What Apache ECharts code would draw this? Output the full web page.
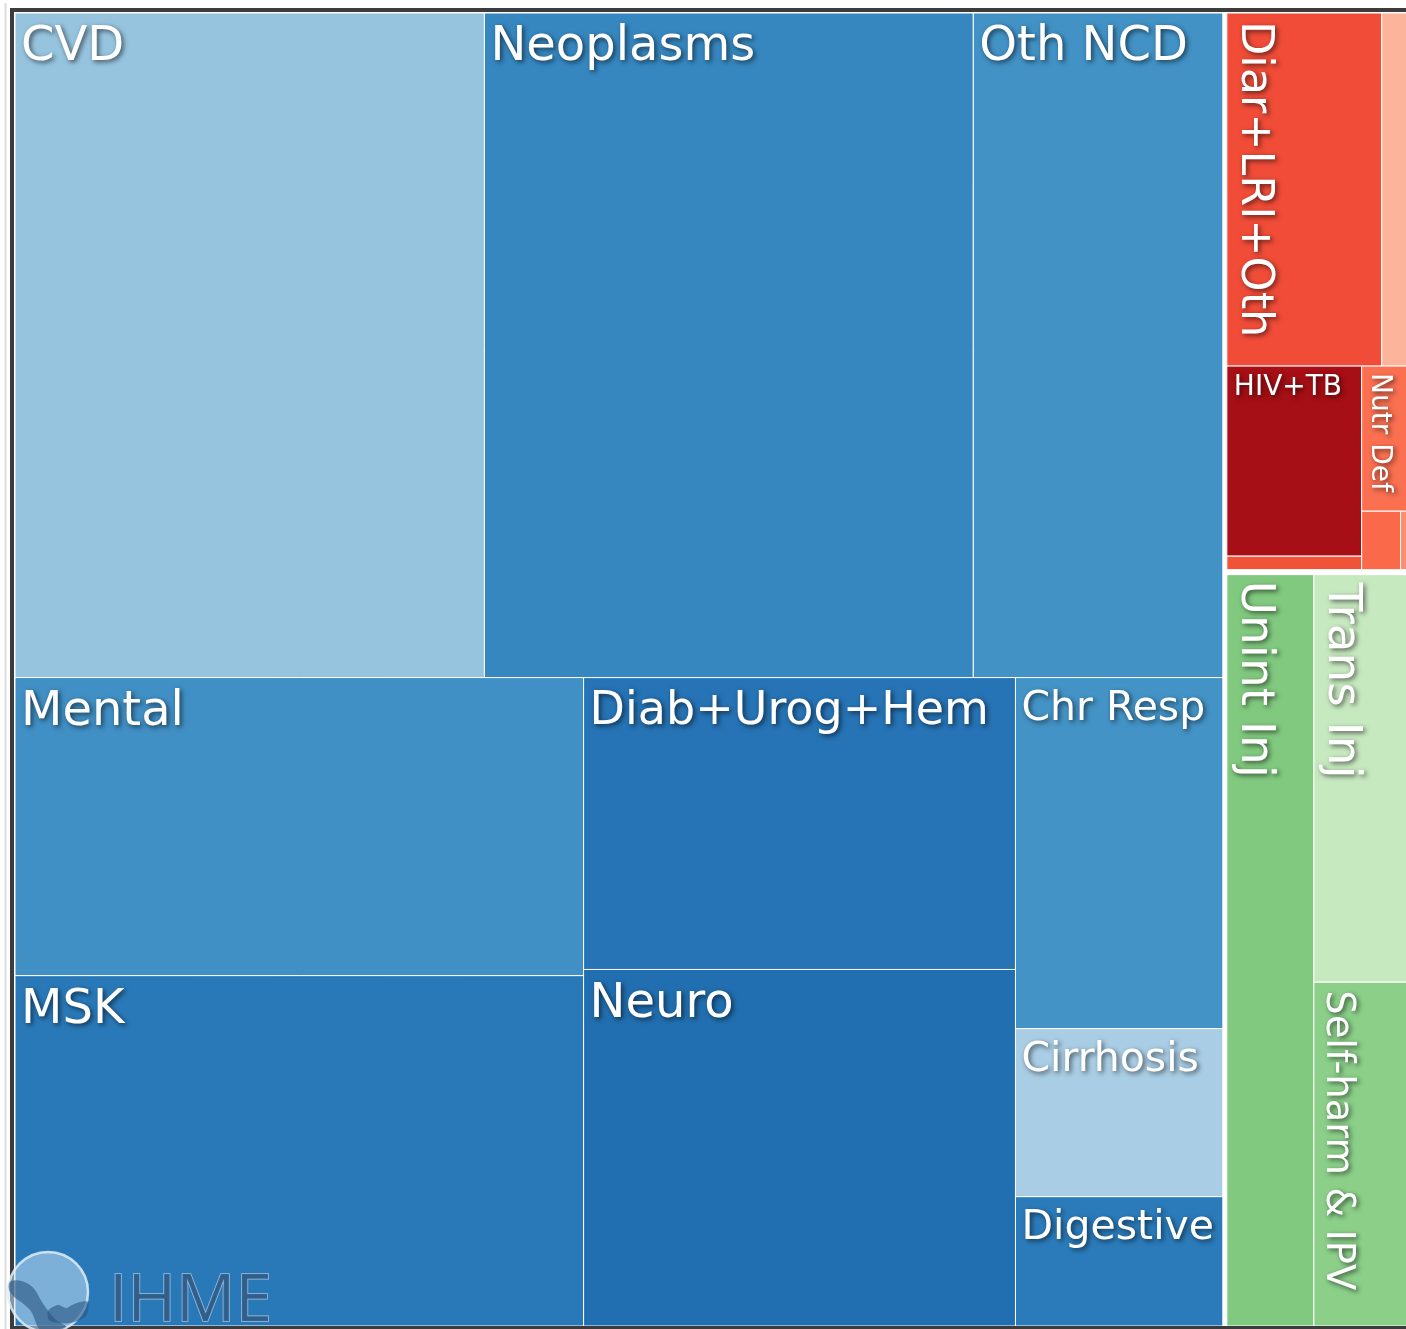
<!DOCTYPE html>
<html>
<head>
<meta charset="utf-8">
<script src="https://cdn.jsdelivr.net/npm/echarts@6/dist/echarts.min.js"></script>
<style>
  html, body { margin: 0; padding: 0; background: #fff; overflow: hidden; }
  #chart { width: 1412px; height: 1329px; }
</style>
</head>
<body>
<div id="chart"></div>
<script>
// ---- DATA (share of total DALYs, %) ----
const ncdCauses  = ['CVD', 'Neoplasms', 'Oth NCD', 'Mental', 'MSK', 'Diab+Urog+Hem', 'Neuro', 'Chr Resp', 'Cirrhosis', 'Digestive'];
const ncdValues  = [17.10, 17.81, 9.09, 9.29, 10.92, 6.91, 8.44, 3.99, 1.91, 1.47];
const commCauses = ['Diar+LRI+Oth', 'Neonatal', 'HIV+TB', 'NTD+Mal', 'Nutr Def', 'Maternal', 'Oth Comm'];
const commValues = [3.01, 0.51, 1.41, 0.10, 0.37, 0.125, 0.024];
const injCauses  = ['Unint Inj', 'Trans Inj', 'Self-harm & IPV'];
const injValues  = [3.60, 2.11, 1.78];

// ---- STYLE ----
const cellColors = {
  'CVD': '#96c4de', 'Neoplasms': '#3687c0', 'Oth NCD': '#4292c6', 'Mental': '#408fc5',
  'MSK': '#2979b9', 'Diab+Urog+Hem': '#2673b5', 'Neuro': '#216fb0', 'Chr Resp': '#4393c6',
  'Cirrhosis': '#a9cde4', 'Digestive': '#2b7bba',
  'Diar+LRI+Oth': '#f04c38', 'Neonatal': '#fcb49b', 'HIV+TB': '#a50f15', 'NTD+Mal': '#f05338',
  'Nutr Def': '#fb7051', 'Maternal': '#fa6a4a', 'Oth Comm': '#fc8d6e',
  'Unint Inj': '#81c97f', 'Trans Inj': '#c7e9c0', 'Self-harm & IPV': '#8bcf89'
};
// label font size, vertical flag, offsets
const labelStyle = {
  'CVD': {size: 48}, 'Neoplasms': {size: 48}, 'Oth NCD': {size: 48}, 'Mental': {size: 48},
  'MSK': {size: 48}, 'Diab+Urog+Hem': {size: 46}, 'Neuro': {size: 48},
  'Chr Resp': {size: 41}, 'Cirrhosis': {size: 41}, 'Digestive': {size: 41},
  'Diar+LRI+Oth': {size: 44.5, vertical: true}, 'HIV+TB': {size: 28, dx: 7, dy: 8},
  'Nutr Def': {size: 28, vertical: true, dx: 4, dy: 7},
  'Unint Inj': {size: 47, vertical: true, dy: 6}, 'Trans Inj': {size: 47, vertical: true},
  'Self-harm & IPV': {size: 38.5, vertical: true}
};

// layout structure (grouping and slice direction only)
const layoutTree = {dir: 'h', gap: 4, kids: [
  {dir: 'v', kids: [
    {dir: 'h', kids: ['CVD', 'Neoplasms', 'Oth NCD']},
    {dir: 'h', kids: [
      {dir: 'v', kids: ['Mental', 'MSK']},
      {dir: 'v', kids: ['Diab+Urog+Hem', 'Neuro']},
      {dir: 'v', kids: ['Chr Resp', 'Cirrhosis', 'Digestive']}
    ]}
  ]},
  {dir: 'v', gap: 5, kids: [
    {dir: 'v', kids: [
      {dir: 'h', kids: ['Diar+LRI+Oth', 'Neonatal']},
      {dir: 'h', kids: [
        {dir: 'v', kids: ['HIV+TB', 'NTD+Mal']},
        {dir: 'v', kids: ['Nutr Def', {dir: 'h', kids: ['Maternal', 'Oth Comm']}]}
      ]}
    ]},
    {dir: 'h', kids: ['Unint Inj', {dir: 'v', kids: ['Trans Inj', 'Self-harm & IPV']}]}
  ]}
]};

const allCauses = ncdCauses.concat(commCauses, injCauses);
const allValues = ncdValues.concat(commValues, injValues);
const valueOf = {};
allCauses.forEach((c, i) => { valueOf[c] = allValues[i]; });

function sumOf(node) {
  if (typeof node === 'string') return valueOf[node];
  return node.kids.reduce((s, k) => s + sumOf(k), 0);
}
function place(node, x0, y0, x1, y1, out) {
  if (typeof node === 'string') { out[node] = [x0, y0, x1, y1]; return; }
  const vals = node.kids.map(sumOf);
  const total = vals.reduce((a, b) => a + b, 0);
  const gap = node.gap || 0;
  const horiz = node.dir === 'h';
  const len = (horiz ? x1 - x0 : y1 - y0) - gap * (node.kids.length - 1);
  let pos = horiz ? x0 : y0;
  node.kids.forEach((k, i) => {
    const l = len * vals[i] / total;
    if (horiz) place(k, pos, y0, pos + l, y1, out);
    else place(k, x0, pos, x1, pos + l, out);
    pos += l + gap;
  });
}

const chart = echarts.init(document.getElementById('chart'), null, {renderer: 'canvas'});

function renderItem(params, api) {
  const name = allCauses[params.dataIndex];
  const p0 = api.coord([0, 0]);
  const p1 = api.coord([1, 1]);
  const rects = {};
  place(layoutTree, p0[0], p0[1], p1[0], p1[1], rects);
  const r = rects[name];
  const children = [{
    type: 'rect',
    shape: {x: r[0], y: r[1], width: r[2] - r[0], height: r[3] - r[1]},
    style: {fill: cellColors[name], stroke: '#ffffff', lineWidth: 1}
  }];
  const ls = labelStyle[name];
  if (ls) {
    const txtStyle = {
      text: name, fill: '#ffffff',
      font: ls.size + 'px "DejaVu Sans"',
      textShadowColor: 'rgba(0,0,0,0.6)', textShadowBlur: 5,
      textShadowOffsetX: 2, textShadowOffsetY: 2
    };
    if (ls.vertical) {
      children.push({
        type: 'text', x: r[0] + (ls.dx != null ? ls.dx : 4), y: r[1] + (ls.dy != null ? ls.dy : 8),
        rotation: -Math.PI / 2,
        style: Object.assign(txtStyle, {align: 'left', verticalAlign: 'bottom'})
      });
    } else {
      children.push({
        type: 'text', x: r[0] + (ls.dx != null ? ls.dx : 6), y: r[1] + (ls.dy != null ? ls.dy : 11),
        style: Object.assign(txtStyle, {align: 'left', verticalAlign: 'top'})
      });
    }
  }
  return {type: 'group', children: children};
}

const option = {
  backgroundColor: '#ffffff',
  animation: false,
  grid: {left: 15, top: 13, width: 1393, height: 1313},
  xAxis: {type: 'value', min: 0, max: 1, show: false},
  yAxis: {type: 'value', min: 0, max: 1, inverse: true, show: false},
  series: [{
    type: 'custom',
    silent: true,
    renderItem: renderItem,
    data: allCauses.map((c, i) => [i, allValues[i]]),
    encode: {x: -1, y: -1}
  }],
  graphic: [
    {type: 'line', z: 10, shape: {x1: 5.5, y1: 3, x2: 5.5, y2: 1329}, style: {stroke: '#dcdcdc', lineWidth: 2}},
    {type: 'rect', z: 10, shape: {x: 12, y: 10, width: 1500, height: 1318}, style: {fill: 'rgba(0,0,0,0)', stroke: '#3c3c3c', lineWidth: 4}},
    {type: 'circle', z: 20, shape: {cx: 48, cy: 1292, r: 40}, style: {fill: 'rgba(195,222,242,0.55)', stroke: 'rgba(225,238,248,0.85)', lineWidth: 2.5}},
    {type: 'polygon', z: 21, shape: {smooth: 0.4, points: [[11,1281],[30,1285],[44,1305],[56,1320],[66,1327],[42,1331],[30,1310],[10,1292]]}, style: {fill: 'rgba(40,85,130,0.6)'}},
    {type: 'polygon', z: 21, shape: {smooth: 0.3, points: [[48,1311],[58,1305],[66,1308],[72,1305],[80,1302],[88,1302],[86,1316],[70,1323],[50,1321]]}, style: {fill: 'rgba(40,85,130,0.6)'}},
    {type: 'text', z: 21, x: 109, y: 1302, style: {text: 'IHME', font: '66px "Open Sans"', fill: 'rgba(50,92,135,0.9)', stroke: 'rgba(160,195,225,0.95)', lineWidth: 1.5, align: 'left', verticalAlign: 'middle'}}
  ]
};
chart.setOption(option);
</script>
</body>
</html>
